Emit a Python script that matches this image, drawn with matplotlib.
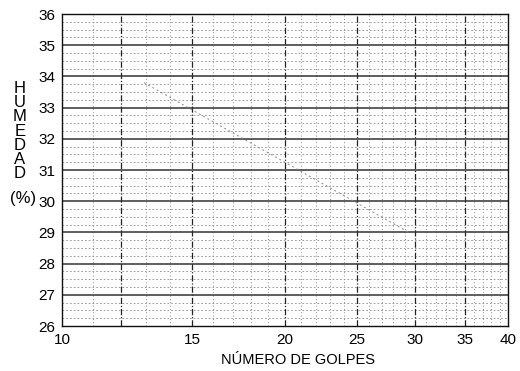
import numpy as np
import matplotlib.pyplot as plt
from matplotlib.ticker import FixedLocator, NullFormatter

plt.rcParams['font.family'] = ['Liberation Sans', 'DejaVu Sans']

# ejes
golpes_ticks = [10, 15, 20, 25, 30, 35, 40]
golpes_major_grid = [12, 15, 20, 25, 30, 35]
golpes_minor_grid = [11, 13, 14, 16, 17, 18, 19, 21, 22, 23, 24, 26, 27, 28, 29,
                     31, 32, 33, 34, 36, 37, 38, 39]
humedad_ticks = [26, 27, 28, 29, 30, 31, 32, 33, 34, 35, 36]
humedad_minor = [26.25, 26.5, 26.75, 27.25, 27.5, 27.75, 28.25, 28.5, 28.75,
                 29.25, 29.5, 29.75, 30.25, 30.5, 30.75, 31.25, 31.5, 31.75,
                 32.25, 32.5, 32.75, 33.25, 33.5, 33.75, 34.25, 34.5, 34.75,
                 35.25, 35.5, 35.75]

# trazo tenue (curva de fluidez borrosa)
curva_golpes = [12.9, 29.4]
curva_humedad = [33.8, 29.0]

fig = plt.figure(figsize=(5.2, 3.71), dpi=100)
ax = fig.add_axes([62 / 520, 1 - 326 / 371, 446 / 520, 312 / 371])

ax.set_xscale('log')
ax.set_xlim(10, 40)
ax.set_ylim(26, 36)

# rejilla vertical
for g in golpes_minor_grid:
    ax.axvline(g, color='#666666', lw=0.6, ls=(0, (1, 3)), zorder=1)
for g in golpes_major_grid:
    ax.axvline(g, color='#222222', lw=0.9, ls=(0, (5, 1.5, 1, 1.5)), zorder=2)

# rejilla horizontal
for h in humedad_minor:
    ax.axhline(h, color='#8a8a8a', lw=0.6, ls=(0, (2, 2.5)), zorder=1)
for h in humedad_ticks[1:-1]:
    ax.axhline(h, color='#333333', lw=1.1, zorder=2)

ax.plot(curva_golpes, curva_humedad, color='#888888', lw=0.7, ls=(0, (2, 3)), zorder=3)

ax.xaxis.set_major_locator(FixedLocator(golpes_ticks))
ax.xaxis.set_major_formatter(plt.FixedFormatter([str(t) for t in golpes_ticks]))
ax.xaxis.set_minor_formatter(NullFormatter())
ax.xaxis.set_minor_locator(FixedLocator([]))
ax.set_yticks(humedad_ticks)
ax.tick_params(length=0, labelsize=11, pad=5)

for s in ax.spines.values():
    s.set_color('#111111')
    s.set_linewidth(1.0)

ax.set_xlabel('NÚMERO DE GOLPES', fontsize=10.5, labelpad=3)
ax.xaxis.set_label_coords(0.53, -0.085)
fig.text(20 / 520, 1 - 131 / 371, 'H\nU\nM\nE\nD\nA\nD', fontsize=12,
         ha='center', va='center', linespacing=0.94)
fig.text(10 / 520, 1 - 199 / 371, '(%)', fontsize=12, ha='left', va='center')

fig.savefig('out.png', dpi=100)
